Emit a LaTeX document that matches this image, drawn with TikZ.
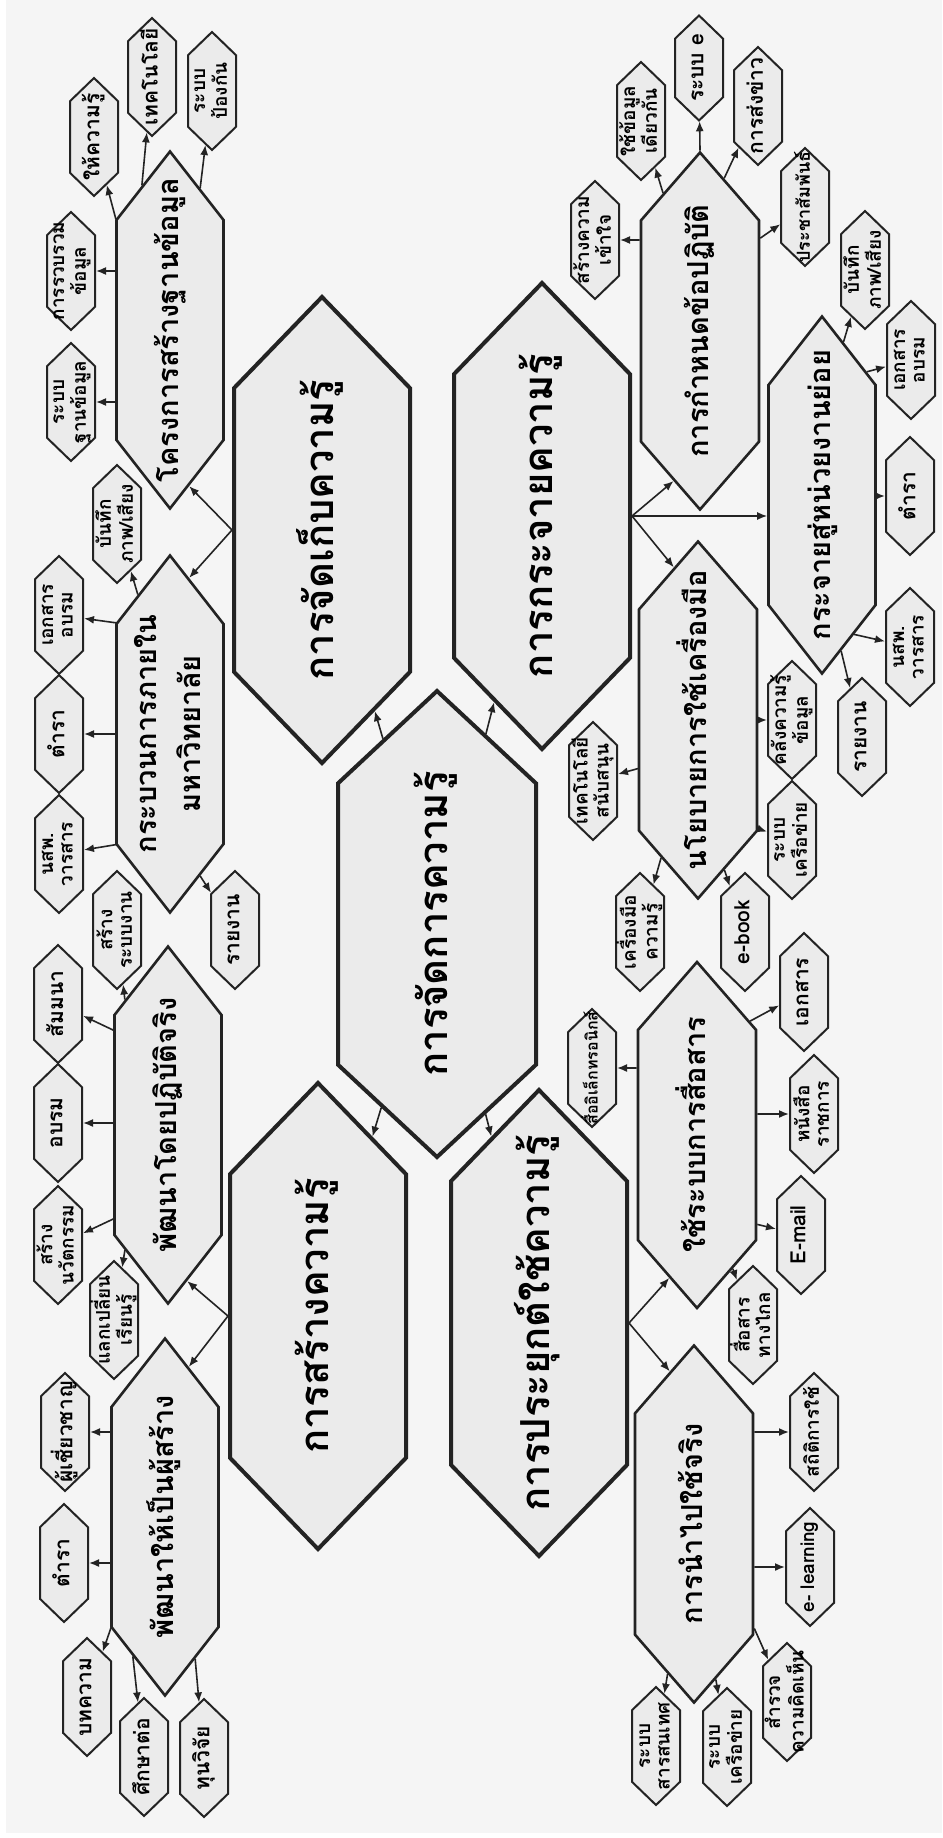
\documentclass[tikz,border=0pt]{standalone}
\usepackage{fontspec}
\setmainfont[Script=Thai]{Loma}
\usetikzlibrary{shapes.symbols,arrows.meta}

\definecolor{pagebg}{RGB}{245,245,245}
\definecolor{hexfill}{RGB}{235,235,235}
\definecolor{inkline}{RGB}{35,35,35}

% label of a hexagon, a fixed width so that the shape keeps its size
\newcommand{\hexlabel}[2][40pt]{\makebox[#1]{\begin{tabular}{@{}c@{}}#2\end{tabular}}}

\begin{document}
\begin{tikzpicture}[x=1pt, y=-1pt,
	hexa/.style={signal, signal to=east and west, rotate=90, draw=inkline, fill=hexfill, inner sep=0pt},
	mainhex/.style={hexa, line width=4pt, minimum width=466pt, minimum height=176pt, signal pointer angle=88, font=\fontsize{40}{44}\selectfont\bfseries},
	subhex/.style={hexa, line width=2.6pt, minimum width=357pt, minimum height=107pt, signal pointer angle=76, font=\fontsize{29}{44}\selectfont\bfseries},
	subhexw/.style={subhex, minimum height=118pt, signal pointer angle=82},
	leafhex/.style={hexa, line width=2pt, minimum width=118pt, minimum height=48pt, signal pointer angle=92, font=\fontsize{21}{22}\selectfont\bfseries},
	leafpair/.style={leafhex, font=\fontsize{19}{19.5}\selectfont\bfseries},
	arr/.style={-{Latex[length=10pt,width=8pt]}, line width=1.6pt, draw=inkline},
	]
	
	\useasboundingbox (0,0) rectangle (942,1838);
	\fill[white] (0,0) rectangle (942,1838);
	\fill[pagebg] (6,0) rectangle (942,1833);
	
	% main level
	\node[mainhex, minimum height=198pt, signal pointer angle=94] (km) at (437,924) {\hexlabel[200pt]{การจัดการความรู้}};
	\node[mainhex] (store) at (322,530) {\hexlabel[200pt]{การจัดเก็บความรู้}};
	\node[mainhex] (spread) at (542,516) {\hexlabel[200pt]{การกระจายความรู้}};
	\node[mainhex] (create) at (318,1316) {\hexlabel[200pt]{การสร้างความรู้}};
	\node[mainhex] (apply) at (539,1323) {\hexlabel[200pt]{การประยุกต์ใช้ความรู้}};
	
	% second level
	\node[subhex] (proj) at (170,330) {\hexlabel[150pt]{โครงการสร้างฐานข้อมูล}};
	\node[subhex] (proc) at (170,734) {\hexlabel[150pt]{กระบวนการภายใน\\มหาวิทยาลัย}};
	\node[subhex] (practice) at (168,1125) {\hexlabel[150pt]{พัฒนาโดยปฏิบัติจริง}};
	\node[subhex] (creator) at (165,1517) {\hexlabel[150pt]{พัฒนาให้เป็นผู้สร้าง}};
	\node[subhexw] (rules) at (700,331) {\hexlabel[150pt]{การกำหนดข้อปฏิบัติ}};
	\node[subhex] (units) at (822,495) {\hexlabel[150pt]{กระจายสู่หน่วยงานย่อย}};
	\node[subhexw] (policy) at (698,720) {\hexlabel[150pt]{นโยบายการใช้เครื่องมือ}};
	\node[subhexw, minimum width=346pt] (comm) at (697,1135) {\hexlabel[150pt]{ใช้ระบบการสื่อสาร}};
	\node[subhexw] (use) at (694,1524) {\hexlabel[150pt]{การนำไปใช้จริง}};
	
	% leaves of the store branch
	\node[leafpair] (rbdb) at (71,402) {\hexlabel{ระบบ\\ฐานข้อมูล}};
	\node[leafpair] (collect) at (71,271) {\hexlabel{การรวบรวม\\ข้อมูล}};
	\node[leafhex] (teach) at (94,137) {\hexlabel{ให้ความรู้}};
	\node[leafhex] (tech) at (152,77) {\hexlabel{เทคโนโลยี}};
	\node[leafpair] (guard) at (212,91) {\hexlabel{ระบบ\\ป้องกัน}};
	\node[leafpair] (rec1) at (117,524) {\hexlabel{บันทึก\\ภาพ/เสียง}};
	\node[leafpair] (doc1) at (59,615) {\hexlabel{เอกสาร\\อบรม}};
	\node[leafhex] (text1) at (59,734) {\hexlabel{ตำรา}};
	\node[leafpair] (news1) at (59,854) {\hexlabel{นสพ.\\วารสาร}};
	\node[leafhex] (rep1) at (235,930) {\hexlabel{รายงาน}};
	
	% leaves of the create branch
	\node[leafpair] (sysw) at (117,930) {\hexlabel{สร้าง\\ระบบงาน}};
	\node[leafhex] (semi) at (58,1004) {\hexlabel{สัมมนา}};
	\node[leafhex] (train) at (58,1123) {\hexlabel{อบรม}};
	\node[leafpair] (innov) at (58,1245) {\hexlabel{สร้าง\\นวัตกรรม}};
	\node[leafpair] (share) at (114,1320) {\hexlabel{แลกเปลี่ยน\\เรียนรู้}};
	\node[leafhex] (expert) at (65,1432) {\hexlabel{ผู้เชี่ยวชาญ}};
	\node[leafhex] (text2) at (64,1563) {\hexlabel{ตำรา}};
	\node[leafhex] (article) at (87,1697) {\hexlabel{บทความ}};
	\node[leafhex] (study) at (144,1757) {\hexlabel{ศึกษาต่อ}};
	\node[leafhex] (grant) at (204,1758) {\hexlabel{ทุนวิจัย}};
	
	% leaves of the spread branch
	\node[leafpair] (underst) at (595,240) {\hexlabel{สร้างความ\\เข้าใจ}};
	\node[leafpair] (samedata) at (641,121) {\hexlabel{ใช้ข้อมูล\\เดียวกัน}};
	\node[leafhex, minimum width=105pt] (esys) at (699,68) {\hexlabel{ระบบ e}};
	\node[leafhex] (news) at (758,106) {\hexlabel{การส่งข่าว}};
	\node[leafhex, font=\fontsize{18}{20}\selectfont\bfseries] (pr) at (805,207) {\hexlabel{ประชาสัมพันธ์}};
	\node[leafpair] (rec2) at (865,270) {\hexlabel{บันทึก\\ภาพ/เสียง}};
	\node[leafpair] (doc2) at (911,360) {\hexlabel{เอกสาร\\อบรม}};
	\node[leafhex] (text3) at (910,496) {\hexlabel{ตำรา}};
	\node[leafpair] (news2) at (910,647) {\hexlabel{นสพ.\\วารสาร}};
	\node[leafhex] (rep2) at (862,737) {\hexlabel{รายงาน}};
	\node[leafpair] (techsup) at (593,781) {\hexlabel{เทคโนโลยี\\สนับสนุน}};
	\node[leafpair] (kbase) at (792,720) {\hexlabel{คลังความรู้\\ข้อมูล}};
	\node[leafpair] (net1) at (792,840) {\hexlabel{ระบบ\\เครือข่าย}};
	\node[leafpair] (ktool) at (640,932) {\hexlabel{เครื่องมือ\\ความรู้}};
	\node[leafhex] (ebook) at (745,932) {\hexlabel{e-book}};
	
	% leaves of the apply branch
	\node[leafhex, font=\fontsize{16}{18}\selectfont\bfseries] (elec) at (592,1068) {\hexlabel{สื่ออิเล็กทรอนิกส์}};
	\node[leafhex] (doc3) at (804,992) {\hexlabel{เอกสาร}};
	\node[leafpair] (letter) at (814,1114) {\hexlabel{หนังสือ\\ราชการ}};
	\node[leafhex] (email) at (801,1235) {\hexlabel{E-mail}};
	\node[leafpair] (remote) at (753,1325) {\hexlabel{สื่อสาร\\ทางไกล}};
	\node[leafhex, font=\fontsize{19}{20}\selectfont\bfseries] (stat) at (814,1432) {\hexlabel{สถิติการใช้}};
	\node[leafhex, font=\fontsize{19}{20}\selectfont\bfseries] (elearn) at (810,1567) {\hexlabel{e- learning}};
	\node[leafpair] (survey) at (787,1702) {\hexlabel{สำรวจ\\ความคิดเห็น}};
	\node[leafpair] (net2) at (727,1747) {\hexlabel{ระบบ\\เครือข่าย}};
	\node[leafpair] (info) at (656,1746) {\hexlabel{ระบบ\\สารสนเทศ}};
	
	% connectors
	\draw[arr] (km) -- (store);
	\draw[arr] (km) -- (spread);
	\draw[arr] (km) -- (create);
	\draw[arr] (km) -- (apply);
	
	\draw[arr] (store.north) -- (proj.-173);
	\draw[arr] (store.north) -- (proc.-7);
	\draw[arr] (create.north) -- (practice.-173);
	\draw[arr] (create.north) -- (creator.-9);
	\draw[arr] (spread.south) -- (rules.170);
	\draw[arr] (spread.south) -- (spread.south -| units.north);
	\draw[arr] (spread.south) -- (policy.9);
	\draw[arr] (apply.south) -- (comm.169);
	\draw[arr] (apply.south) -- (use.9);
	
	\draw[arr] (proj.north |- rbdb) -- (rbdb);
	\draw[arr] (proj.north |- collect) -- (collect);
	\draw[arr] (proj.26) -- (teach);
	\draw[arr] (proj.11) -- (tech);
	\draw[arr] (proj.-12) -- (guard);
	
	\draw[arr] (proc.13) -- (rec1);
	\draw[arr] (proc.26) -- (doc1);
	\draw[arr] (proc.north |- text1) -- (text1);
	\draw[arr] (proc.154) -- (news1);
	\draw[arr] (proc.-168) -- (rep1);
	
	\draw[arr] (practice.19) -- (sysw);
	\draw[arr] (practice.30) -- (semi);
	\draw[arr] (practice.north |- train) -- (train);
	\draw[arr] (practice.150) -- (innov);
	\draw[arr] (practice.161) -- (share);
	
	\draw[arr] (creator.north |- expert) -- (expert);
	\draw[arr] (creator.north |- text2) -- (text2);
	\draw[arr] (creator.154) -- (article);
	\draw[arr] (creator.167) -- (study);
	\draw[arr] (creator.-168) -- (grant);
	
	\draw[arr] (rules.north |- underst) -- (underst);
	\draw[arr] (rules.15) -- (samedata);
	\draw[arr] (rules.east) -- (esys);
	\draw[arr] (rules.-9) -- (news);
	\draw[arr] (rules.-33) -- (pr);
	
	\draw[arr] (units.-8) -- (rec2);
	\draw[arr] (units.-20) -- (doc2);
	\draw[arr] (units.south |- text3) -- (text3);
	\draw[arr] (units.-167) -- (news2);
	\draw[arr] (units.-173) -- (rep2);
	
	\draw[arr] (policy.129) -- (techsup);
	\draw[arr] (policy.south |- kbase) -- (kbase);
	\draw[arr] (policy.-151) -- (net1);
	\draw[arr] (policy.165) -- (ktool);
	\draw[arr] (policy.-170) -- (ebook);
	
	\draw[arr] (comm.north |- elec) -- (elec);
	\draw[arr] (comm.-25) -- (doc3);
	\draw[arr] (comm.south |- letter) -- (letter);
	\draw[arr] (comm.-146) -- (email);
	\draw[arr] (comm.-165) -- (remote);
	
	\draw[arr] (use.south |- stat) -- (stat);
	\draw[arr] (use.south |- elearn) -- (elearn);
	\draw[arr] (use.-150) -- (survey);
	\draw[arr] (use.-172) -- (net2);
	\draw[arr] (use.170) -- (info);
	
\end{tikzpicture}
\end{document}
